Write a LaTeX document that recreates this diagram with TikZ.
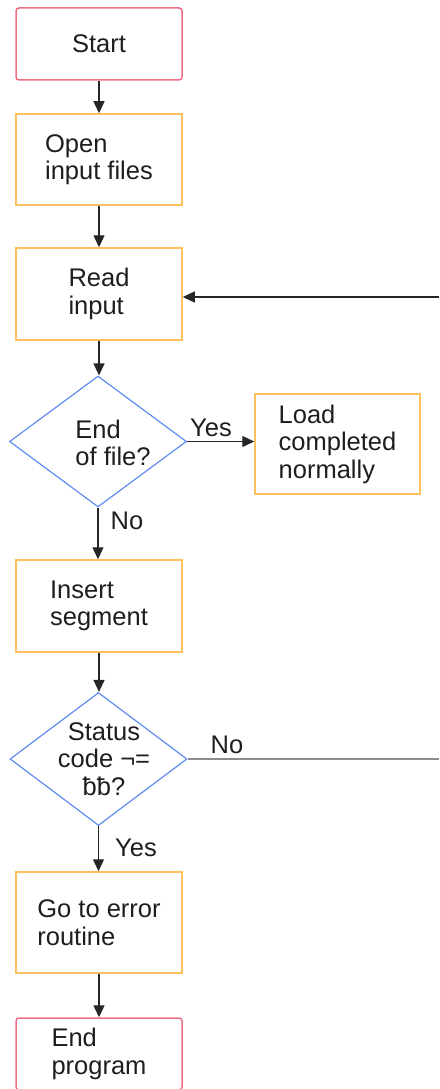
\documentclass[tikz,border=0pt]{standalone}
\usepackage{fontspec}
\setmainfont{Liberation Sans}
\usetikzlibrary{shapes.geometric,arrows.meta}
\definecolor{pinkred}{RGB}{240,110,130}
\definecolor{orangeb}{RGB}{255,192,95}
\definecolor{blueb}{RGB}{95,140,240}
\definecolor{grayline}{RGB}{140,140,140}
\definecolor{txt}{RGB}{30,30,30}
\begin{document}
\begin{tikzpicture}[x=1pt,y=-1pt,
  every node/.style={font=\fontsize{25.5}{27.5}\selectfont, text=txt},
  term/.style={draw=pinkred, line width=1.5pt, rounded corners=3pt, minimum width=166pt, minimum height=72pt, align=left, inner sep=0pt},
  proc/.style={draw=orangeb, line width=1.5pt, minimum width=166pt, minimum height=92pt, align=left, inner sep=0pt},
  dia/.style={draw=blueb, diamond, line width=1.2pt, minimum width=177pt, minimum height=131pt, inner sep=0pt},
  dtext/.style={inner sep=0pt},
  conn/.style={line width=1.3pt, draw=black!85, -{Triangle[length=12pt,width=11pt]}},
  grayconn/.style={line width=2pt, draw=grayline},
  lbl/.style={inner sep=0pt}]
\useasboundingbox (0,0) rectangle (439,1089);
\node[term] (start) at (99,44) {Start};
\node[proc, minimum height=91pt] (open) at (99,159.5) {Open\\input files};
\node[proc] (read) at (99,294) {Read\\input};
\node[dia] (d1) at (98,441.5) {};
\node[dtext, align=left] (d1t) at (113,443) {End\\of file?};
\node[proc, minimum width=165pt, minimum height=100pt] (load) at (337.5,444) {Load\\completed\\normally};
\node[proc] (ins) at (99,606) {Insert\\segment};
\node[dia, minimum height=133pt] (d2) at (98.5,759) {};
\node[dtext, align=center] (d2t) at (104,759) {Status\\code ¬=\\ƀƀ?};
\node[proc, minimum height=101pt] (err) at (99,922.5) {Go to error\\routine};
\node[term] (endp) at (99,1054) {End\\program};
\coordinate (rin) at (439,297);
\coordinate (rout) at (439,759);
\draw[conn] (start) -- (open);
\draw[conn] (open) -- (read);
\draw[conn] (read.south) -- (read.south |- d1.north);
\draw[conn] (d1.east) -- (d1.east -| load.west);
\draw[conn] (d1.south) -- (d1.south |- ins.north);
\draw[conn] (ins.south) -- (ins.south |- d2.north);
\draw[conn] (d2.south) -- (d2.south |- err.north);
\draw[conn] (err) -- (endp);
\draw[grayconn] (d2.east) -- (d2.east -| rout);
\draw[conn] (rin) -- (rin -| read.east);
\node[lbl] (yes1) at (211,428) {Yes};
\node[lbl] (no1) at (127,521) {No};
\node[lbl] (no2) at (227,745) {No};
\node[lbl] (yes2) at (136,848) {Yes};
\end{tikzpicture}
\end{document}
